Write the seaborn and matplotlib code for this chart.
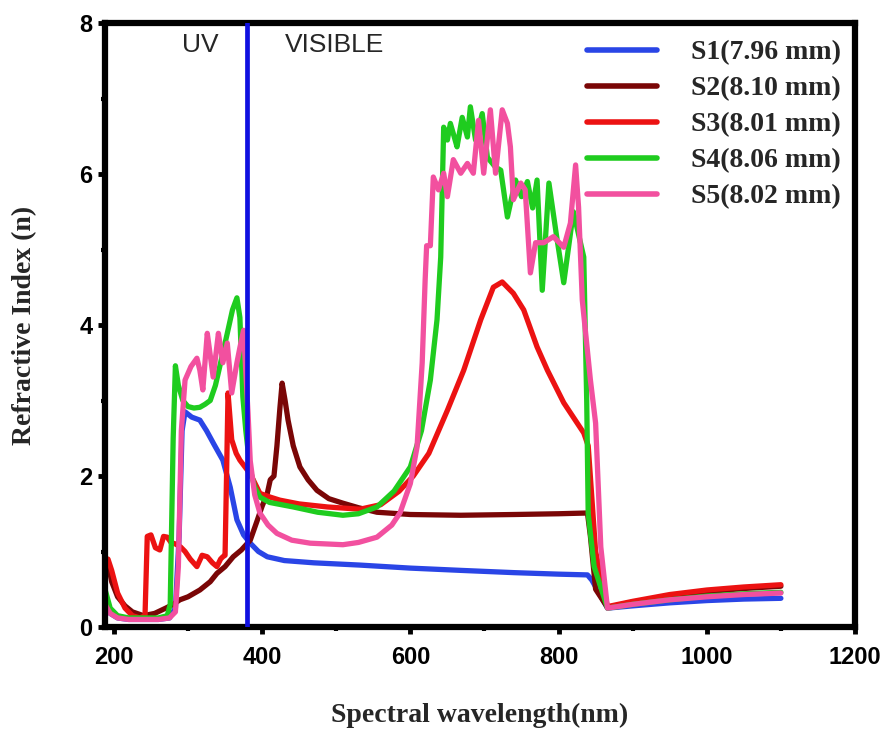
import numpy as np
import pandas as pd
import matplotlib
matplotlib.use("Agg")
import matplotlib.pyplot as plt
import seaborn as sns
from matplotlib.ticker import MultipleLocator
from matplotlib.font_manager import FontProperties

# ---- data: refractive index vs wavelength for five samples ----
labels = ["S1(7.96 mm)", "S2(8.10 mm)", "S3(8.01 mm)", "S4(8.06 mm)", "S5(8.02 mm)"]
colors = ["#2a45e6", "#7a0606", "#ec1212", "#1fcc1f", "#f2509f"]

s1_wl = [188, 195, 205, 220, 240, 260, 275, 283, 288, 292, 296, 305, 316, 325, 335,
         347, 357, 366, 375, 384, 395, 407, 430, 470, 532, 600, 668, 740, 800, 839,
         845, 866, 900, 950, 1000, 1050, 1100]
s1_n = [0.35, 0.18, 0.12, 0.10, 0.10, 0.10, 0.12, 0.25, 1.2, 2.6, 2.85, 2.78, 2.74, 2.6, 2.42,
        2.21, 1.85, 1.42, 1.22, 1.11, 1.0, 0.93, 0.88, 0.85, 0.82, 0.78, 0.75, 0.72, 0.70, 0.69,
        0.62, 0.25, 0.28, 0.32, 0.35, 0.37, 0.38]

s2_wl = [188, 192, 197, 205, 215, 225, 240, 255, 270, 280, 289, 300, 316, 330, 339, 350,
         361, 372, 384, 393, 400, 407, 411, 416, 420, 424, 427, 431, 435, 442, 451, 462,
         474, 490, 509, 530, 555, 600, 668, 740, 800, 839, 843, 850, 866, 900, 950, 1000,
         1050, 1100]
s2_n = [0.9, 0.85, 0.6, 0.4, 0.28, 0.2, 0.15, 0.18, 0.25, 0.3, 0.36, 0.4, 0.49, 0.6, 0.71, 0.8,
        0.93, 1.02, 1.15, 1.4, 1.6, 1.77, 1.95, 2.0, 2.4, 2.9, 3.23, 3.0, 2.74, 2.4, 2.12, 1.95,
        1.81, 1.7, 1.64, 1.58, 1.52, 1.49, 1.48, 1.49, 1.5, 1.51, 1.2, 0.5, 0.26, 0.33, 0.41, 0.47,
        0.51, 0.54]

s3_wl = [188, 192, 197, 205, 215, 225, 235, 242, 245, 250, 256, 262, 267, 272, 277, 283,
         290, 296, 303, 312, 319, 326, 333, 339, 344, 347, 350, 352, 354, 359, 365, 370,
         380, 388, 397, 411, 424, 450, 488, 532, 560, 585, 604, 625, 650, 672, 695, 712,
         724, 739, 753, 771, 785, 807, 834, 840, 850, 866, 900, 950, 1000, 1050, 1100]
s3_n = [0.85, 0.9, 0.75, 0.45, 0.25, 0.15, 0.12, 0.15, 1.2, 1.22, 1.05, 1.02, 1.2, 1.19, 1.12, 1.1,
        1.06, 1.0, 0.9, 0.8, 0.95, 0.93, 0.85, 0.8, 0.9, 0.93, 0.95, 2.0, 3.1, 2.48, 2.3, 2.21,
        2.08, 1.95, 1.77, 1.72, 1.68, 1.63, 1.59, 1.56, 1.62, 1.8, 2.0, 2.3, 2.87, 3.4, 4.07, 4.5,
        4.57, 4.42, 4.2, 3.71, 3.4, 2.97, 2.57, 2.4, 1.0, 0.27, 0.34, 0.43, 0.49, 0.53, 0.56]

s4_wl = [188, 195, 205, 220, 240, 260, 272, 276, 280, 283, 287, 293, 300, 308, 316, 323,
         330, 337, 344, 353, 360, 366, 370, 374, 378, 384, 390, 397, 410, 442, 475, 509,
         530, 555, 578, 600, 615, 627, 636, 641, 645, 650, 654, 659, 663, 670, 677, 681,
         688, 697, 704, 715, 722, 731, 742, 750, 758, 765, 771, 778, 787, 797, 807, 820,
         834, 838, 840, 848, 866, 900, 950, 1000, 1050, 1100]
s4_n = [0.5, 0.25, 0.15, 0.12, 0.12, 0.12, 0.15, 0.3, 2.5, 3.46, 3.2, 3.0, 2.92, 2.9, 2.91, 2.95,
        3.0, 3.2, 3.5, 3.89, 4.2, 4.36, 4.1, 3.05, 2.6, 2.08, 1.85, 1.72, 1.65, 1.59, 1.52, 1.48,
        1.5, 1.59, 1.8, 2.12, 2.6, 3.27, 4.07, 4.9, 6.62, 6.45, 6.67, 6.5, 6.36, 6.75, 6.49, 6.89,
        6.45, 6.8, 6.22, 6.09, 6.05, 5.43, 5.92, 5.7, 5.9, 5.55, 5.92, 4.46, 5.88, 5.2, 4.56, 5.5,
        4.9, 3.0, 1.5, 0.8, 0.25, 0.3, 0.36, 0.41, 0.44, 0.46]

s5_wl = [188, 195, 205, 220, 240, 260, 275, 283, 287, 291, 296, 304, 312, 316, 320, 326,
         330, 334, 341, 344, 347, 353, 359, 366, 370, 375, 381, 384, 390, 397, 408, 420,
         440, 465, 509, 530, 555, 575, 586, 600, 609, 616, 620, 622, 627, 631, 638, 645,
         650, 658, 668, 677, 685, 692, 699, 708, 715, 724, 731, 735, 739, 749, 755, 762,
         769, 780, 793, 807, 816, 823, 827, 832, 843, 850, 857, 866, 900, 950, 1000, 1050,
         1100]
s5_n = [0.3, 0.18, 0.12, 0.1, 0.1, 0.1, 0.12, 0.2, 0.8, 2.6, 3.27, 3.45, 3.56, 3.4, 3.14, 3.89,
        3.6, 3.31, 3.89, 3.7, 3.5, 3.76, 3.1, 3.5, 3.7, 3.93, 2.83, 2.2, 1.75, 1.51, 1.35, 1.24,
        1.15, 1.11, 1.09, 1.12, 1.19, 1.35, 1.51, 1.9, 2.38, 3.5, 4.6, 5.05, 5.05, 5.96, 5.79, 6.01,
        5.7, 6.19, 6.01, 6.14, 6.01, 6.71, 6.01, 6.85, 6.01, 6.85, 6.67, 6.36, 5.66, 5.88, 5.79, 4.69,
        5.09, 5.09, 5.17, 5.03, 5.35, 6.12, 5.56, 4.33, 3.27, 2.7, 1.06, 0.25, 0.3, 0.36, 0.4, 0.43,
        0.45]

uv_visible_boundary = 380

series = [(s1_wl, s1_n), (s2_wl, s2_n), (s3_wl, s3_n), (s4_wl, s4_n), (s5_wl, s5_n)]
frames = []
for lab, (wl, n) in zip(labels, series):
    frames.append(pd.DataFrame({"wavelength": wl, "n": n, "sample": lab}))
df = pd.concat(frames, ignore_index=True)

# ---- styling ----
sns.set_style("ticks")
plt.rcParams["font.family"] = ["Liberation Sans", "DejaVu Sans"]

fig = plt.figure(figsize=(8.9, 7.34), dpi=100)
ax = fig.add_axes([105 / 890, 1 - 627 / 734, 750 / 890, 604 / 734])

for lab, col in zip(labels, colors):
    sub = df[df["sample"] == lab]
    sns.lineplot(data=sub, x="wavelength", y="n", color=col, lw=3.8, label=lab,
                 sort=False, estimator=None, ax=ax)

ax.axvline(uv_visible_boundary, color="#1010e0", lw=3.4, zorder=10)

ax.set_xlim(188, 1200)
ax.set_ylim(0, 8)
ax.xaxis.set_major_locator(MultipleLocator(200))
ax.xaxis.set_minor_locator(MultipleLocator(100))
ax.yaxis.set_major_locator(MultipleLocator(2))
ax.yaxis.set_minor_locator(MultipleLocator(1))

for sp in ax.spines.values():
    sp.set_linewidth(4.5)
    sp.set_color("black")

ax.tick_params(which="major", direction="out", length=5, width=3.5, labelsize=17, colors="black")
ax.tick_params(which="minor", direction="out", length=3, width=3, colors="black")
ax.tick_params(axis="x", which="major", pad=9)
ax.tick_params(axis="y", which="major", pad=4)
for t in ax.get_xticklabels() + ax.get_yticklabels():
    t.set_fontweight("bold")

serif_bold = dict(family=["Liberation Serif", "DejaVu Serif"], weight="bold", size=20)
ax.set_xlabel("Spectral wavelength(nm)", fontdict=serif_bold, labelpad=24)
ax.set_ylabel("Refractive Index (n)", fontdict=serif_bold, labelpad=30)

ax.text(316, 7.71, "UV", ha="center", va="center", fontsize=19)
ax.text(498, 7.71, "VISIBLE", ha="center", va="center", fontsize=19)

leg = ax.legend(loc="upper left", bbox_to_anchor=(0.643, 0.972), frameon=False,
                prop=FontProperties(family=["Liberation Serif", "DejaVu Serif"], weight="bold", size=20),
                handlelength=2.5, handletextpad=1.25, labelspacing=0.38,
                borderpad=0, borderaxespad=0)
for ln in leg.get_lines():
    ln.set_linewidth(4)

fig.savefig("out.png", dpi=100)
